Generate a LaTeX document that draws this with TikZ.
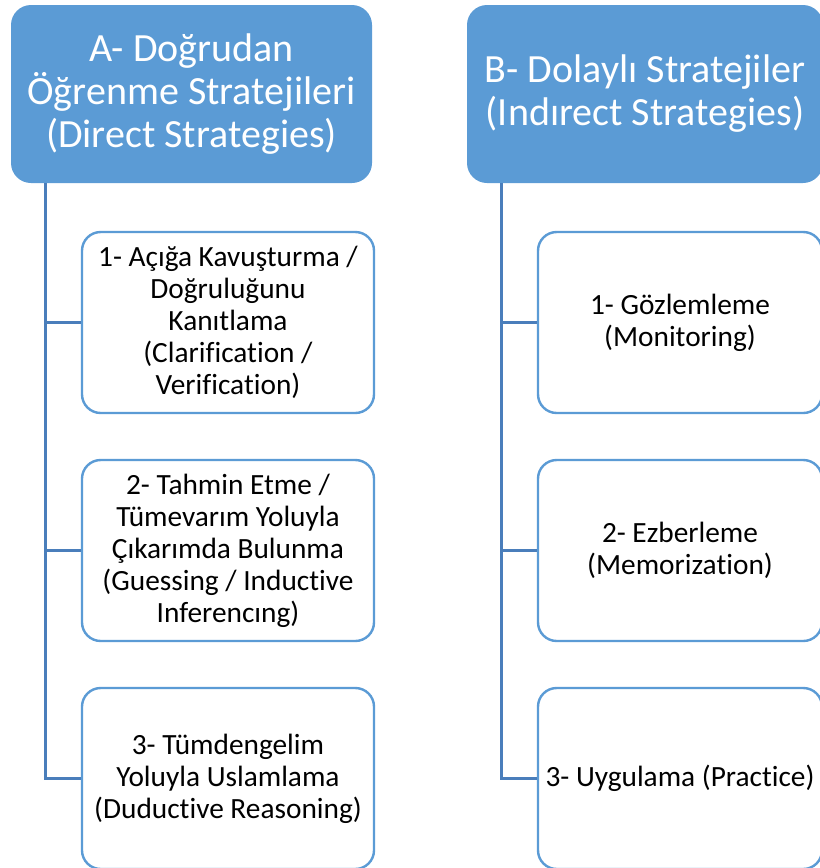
\documentclass[tikz,border=0pt]{standalone}
\usepackage{fontspec}
\setmainfont[Ligatures=NoCommon]{Carlito}
\usetikzlibrary{calc}
\definecolor{headblue}{HTML}{5B9BD5}
\definecolor{linkblue}{HTML}{4A7EBB}
\tikzset{
  header/.style={rectangle, rounded corners=15pt, fill=headblue, draw=none,
    text=white, align=center, inner sep=0pt,
    minimum height=133.5pt, font=\fontsize{30}{32.3}\selectfont},
  itembox/.style={rectangle, rounded corners=14pt, fill=white, draw=headblue,
    line width=1.8pt, text=black, align=center, inner sep=0pt,
    minimum height=135.75pt, font=\fontsize{22}{24}\selectfont},
  link/.style={draw=linkblue, line width=2.1pt}
}
\begin{document}
\begin{tikzpicture}[x=0.75pt, y=-0.75pt]
  \useasboundingbox (0,0) rectangle (820,868);
  \clip (0,0) rectangle (820,868);

  % column A: direct strategies
  \node[header, minimum width=270.75pt] (hA) at (191.5,94)
    {A- Doğrudan\\Öğrenme Stratejileri\\(Direct Strategies)};
  \node[itembox, minimum width=219pt] (a1) at (228,322.5)
    {1- Açığa Kavuşturma /\\Doğruluğunu\\Kanıtlama\\(Clarification /\\Verification)};
  \node[itembox, minimum width=219pt] (a2) at (228,550.5)
    {2- Tahmin Etme /\\Tümevarım Yoluyla\\Çıkarımda Bulunma\\(Guessing / Inductive\\Inferencıng)};
  \node[itembox, minimum width=219pt] (a3) at (228,778.5)
    {3- Tümdengelim\\Yoluyla Uslamlama\\(Duductive Reasoning)};

  % column B: indirect strategies
  \node[header, minimum width=267pt] (hB) at (645,94)
    {B- Dolaylı Stratejiler\\(Indırect Strategies)};
  \node[itembox, minimum width=213pt] (b1) at (680,322.5)
    {1- Gözlemleme\\(Monitoring)};
  \node[itembox, minimum width=213pt] (b2) at (680,550.5)
    {2- Ezberleme\\(Memorization)};
  \node[itembox, minimum width=213pt] (b3) at (680,778.5)
    {3- Uygulama (Practice)};

  % tree connectors
  \coordinate (ta) at ($(hA.south west)+(35,0)$);
  \coordinate (tb) at ($(hB.south west)+(35,0)$);
  \draw[link] (ta) |- (a1.west);
  \draw[link] (ta) |- (a2.west);
  \draw[link] (ta) |- (a3.west);
  \draw[link] (tb) |- (b1.west);
  \draw[link] (tb) |- (b2.west);
  \draw[link] (tb) |- (b3.west);
\end{tikzpicture}
\end{document}
